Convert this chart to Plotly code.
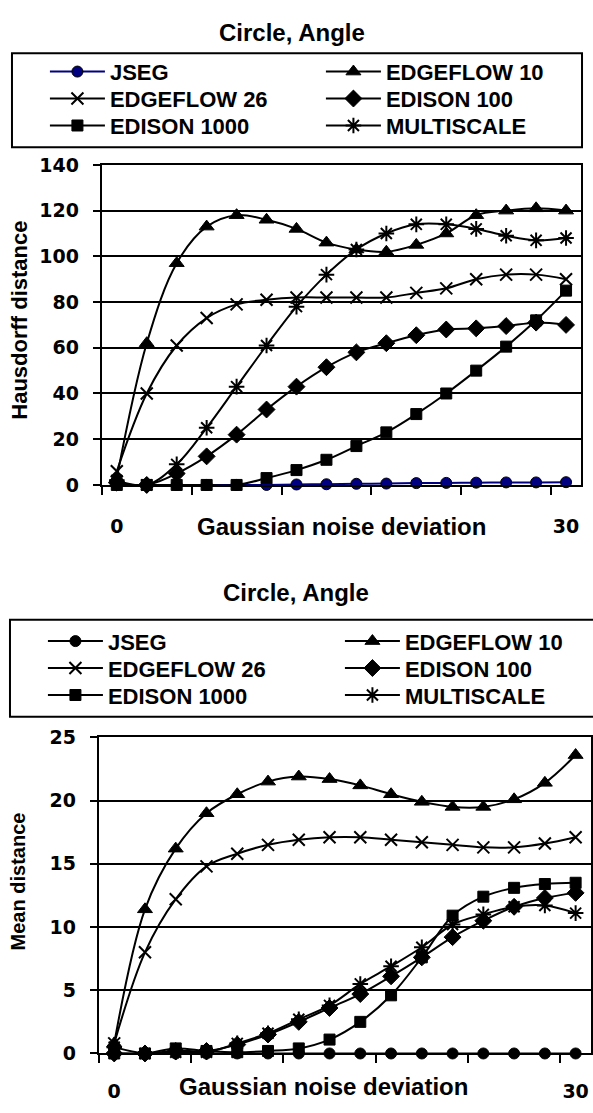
import plotly.graph_objects as go

W, H = 593, 1113

# ---------------- data ----------------
noise = [0, 2, 4, 6, 8, 10, 12, 14, 16, 18, 20, 22, 24, 26, 28, 30]
series_names = ["JSEG", "EDGEFLOW 10", "EDGEFLOW 26", "EDISON 100", "EDISON 1000", "MULTISCALE"]

# Hausdorff distance (top chart)
jseg_h = [0, 0, 0, 0, 0, 0, 0.2, 0.3, 0.5, 0.6, 0.8, 0.9, 1.0, 1.1, 1.1, 1.2]
edgeflow10_h = [3, 62, 97, 113, 118, 116, 112, 106, 103, 102, 105, 110, 118, 120, 121, 120]
edgeflow26_h = [6, 40, 61, 73, 79, 81, 82, 82, 82, 82, 84, 86, 90, 92, 92, 90]
edison100_h = [1, 0, 5, 12.5, 22, 33, 43, 51.5, 58, 62, 65.5, 68, 68.5, 69.5, 71, 70]
edison1000_h = [0, 0, 0, 0, 0, 3, 6.5, 11, 17, 23, 31, 40, 50, 60.5, 72, 85]
multiscale_h = [2, 0, 9, 25, 43, 61, 78, 92, 103, 110, 114, 114, 112, 109, 107, 108]

# Mean distance (bottom chart)
jseg_m = [0, 0, 0, 0, 0, 0, 0, 0, 0, 0, 0, 0, 0, 0, 0, 0]
edgeflow10_m = [0.8, 11.4, 16.2, 19.0, 20.5, 21.5, 21.9, 21.7, 21.2, 20.5, 19.9, 19.5, 19.5, 20.1, 21.4, 23.6]
edgeflow26_m = [0.8, 8.0, 12.2, 14.8, 15.8, 16.5, 16.9, 17.1, 17.1, 16.9, 16.7, 16.5, 16.3, 16.3, 16.6, 17.1]
edison100_m = [0, 0, 0.2, 0.2, 0.7, 1.5, 2.5, 3.6, 4.7, 6.1, 7.6, 9.2, 10.5, 11.6, 12.3, 12.7]
edison1000_m = [0, 0, 0.4, 0.2, 0.1, 0.2, 0.4, 1.1, 2.5, 4.6, 7.6, 10.9, 12.4, 13.1, 13.4, 13.5]
multiscale_m = [0.5, 0, 0.1, 0.1, 0.8, 1.6, 2.7, 3.8, 5.5, 6.9, 8.4, 10.2, 11.0, 11.6, 11.7, 11.1]

top_values = [jseg_h, edgeflow10_h, edgeflow26_h, edison100_h, edison1000_h, multiscale_h]
bottom_values = [jseg_m, edgeflow10_m, edgeflow26_m, edison100_m, edison1000_m, multiscale_m]

chart_title = "Circle, Angle"
x_title = "Gaussian noise deviation"
y_title_top = "Hausdorff distance"
y_title_bottom = "Mean distance"
x_tick_vals = [0, 30]
x_tick_text = ["0", "30"]
x_minor_ticks = [-1, 5, 11, 17, 23, 29]
top_y_range = [0, 140]
top_y_step = 20
bottom_y_range = [0, 25]
bottom_y_step = 5

# ---------------- style ----------------
FONT = "Liberation Sans, Arial, sans-serif"
NUMFONT = "DejaVu Sans, sans-serif"
symbols = ["circle", "triangle-up", "x-thin-open", "diamond", "square", "asterisk-open"]
sizes = [11, 13, 12, 13, 11, 13]
ITEMW = 55
TEXTGAP = ITEMW + 10


def px_x(v):
    return v / W


def px_y(v):
    return 1 - v / H


fig = go.Figure()

legend_rows = [[0, 1], [2, 3], [4, 5]]
col1_text_x = [110, 108]
col2_text_x = [386, 405]
first_col_width = [col2_text_x[c] - col1_text_x[c] - TEXTGAP - 5 for c in range(2)]


def row_of(i):
    for r, row in enumerate(legend_rows):
        if i in row:
            return r
    return 0


for chart, values in enumerate([top_values, bottom_values]):
    for i, (name, vals) in enumerate(zip(series_names, values)):
        if chart == 0 and i == 0:
            lcolor = "#000080"
            mcolor = "#000080"
        else:
            lcolor = "black"
            mcolor = "black"
        open_sym = symbols[i].endswith("open")
        r = row_of(i)
        legend_id = chart * 3 + r + 1
        is_first_col = legend_rows[r][0] == i
        fig.add_trace(go.Scatter(
            x=noise, y=vals, name=name,
            mode="lines+markers",
            line=dict(color=lcolor, width=2, shape="spline", smoothing=1),
            marker=dict(symbol=symbols[i], size=sizes[i], color=mcolor,
                        line=dict(color="black", width=2 if open_sym else 1)),
            cliponaxis=False,
            xaxis="x" if chart == 0 else "x2",
            yaxis="y" if chart == 0 else "y2",
            legend="legend" if legend_id == 1 else f"legend{legend_id}",
            legendwidth=first_col_width[chart] if is_first_col else 170,
        ))

# plot areas (pixels)
top_plot = dict(x0=102, x1=582, y0=157, y1=483.5)
bot_plot = dict(x0=99, x1=592, y0=741, y1=1063.5)


def x_axis(dom, anchor, label_gap):
    return dict(
        range=[-1, 31], tickmode="array", tickvals=x_tick_vals, ticktext=x_tick_text,
        ticks="outside", ticklen=label_gap, tickcolor="rgba(0,0,0,0)",
        showline=True, linecolor="black", linewidth=2, mirror=True,
        showgrid=False, zeroline=False, domain=dom, anchor=anchor,
        tickfont=dict(family=NUMFONT, size=19, color="black", weight="bold"),
        minor=dict(tickmode="array", tickvals=x_minor_ticks, ticks="outside", ticklen=8,
                   tickwidth=2, tickcolor="black", showgrid=False),
        fixedrange=True,
    )


def y_axis(rng, step, dom, anchor):
    return dict(
        range=rng, dtick=step, tick0=0, domain=dom, anchor=anchor,
        ticks="outside", ticklen=7, tickwidth=2, tickcolor="black",
        showline=True, linecolor="black", linewidth=2, mirror=True,
        showgrid=True, gridcolor="black", gridwidth=2, zeroline=False,
        tickfont=dict(family=NUMFONT, size=19, color="black", weight="bold"),
        ticklabelstandoff=10,
        fixedrange=True,
    )


layout = dict(
    width=W, height=H,
    margin=dict(l=0, r=0, t=0, b=0),
    paper_bgcolor="white", plot_bgcolor="white",
    font=dict(family=FONT, color="black"),
    xaxis=x_axis([px_x(top_plot["x0"]), px_x(top_plot["x1"])], "y", 23),
    yaxis=y_axis(top_y_range, top_y_step, [px_y(top_plot["y1"]), px_y(top_plot["y0"])], "x"),
    xaxis2=x_axis([px_x(bot_plot["x0"]), px_x(bot_plot["x1"])], "y2", 20),
    yaxis2=y_axis(bottom_y_range, bottom_y_step, [px_y(bot_plot["y1"]), px_y(bot_plot["y0"])], "x2"),
    showlegend=True,
)

# legends: one per row so row spacing matches the boxed Excel legend
legend_row_y = [62, 89.5, 117, 643, 670.5, 698]
for k in range(6):
    key = "legend" if k == 0 else f"legend{k + 1}"
    chart = k // 3
    layout[key] = dict(
        orientation="h", x=px_x(col1_text_x[chart] - TEXTGAP), xanchor="left",
        y=px_y(legend_row_y[k]), yanchor="middle",
        itemwidth=ITEMW,
        bgcolor="rgba(0,0,0,0)", borderwidth=0,
        font=dict(family=FONT, size=22, color="black", weight="bold"),
        traceorder="normal", itemclick=False, itemdoubleclick=False,
    )

fig.update_layout(**layout)

# legend boxes
fig.add_shape(type="rect", xref="paper", yref="paper",
              x0=px_x(12), x1=px_x(583), y0=px_y(139), y1=px_y(43),
              line=dict(color="black", width=2), fillcolor="rgba(0,0,0,0)", layer="below")
fig.add_shape(type="rect", xref="paper", yref="paper",
              x0=px_x(10), x1=px_x(610), y0=px_y(720), y1=px_y(621),
              line=dict(color="black", width=2), fillcolor="rgba(0,0,0,0)", layer="below")

bold = dict(family=FONT, size=24, color="black", weight="bold")
ann = [
    dict(text=chart_title, x=px_x(292), y=px_y(22), font=bold),
    dict(text=chart_title, x=px_x(297), y=px_y(593), font=bold),
    dict(text=x_title, x=px_x(342), y=px_y(526), font=dict(bold, size=24)),
    dict(text=x_title, x=px_x(324), y=px_y(1097), font=dict(bold, size=24)),
    dict(text=y_title_top, x=px_x(20), y=px_y(315), textangle=-90, font=dict(bold, size=22)),
    dict(text=y_title_bottom, x=px_x(18), y=px_y(888), textangle=-90, font=dict(bold, size=20)),
]
for a in ann:
    fig.add_annotation(xref="paper", yref="paper", showarrow=False,
                       xanchor="center", yanchor="middle", **a)

fig.write_html("out.html")
